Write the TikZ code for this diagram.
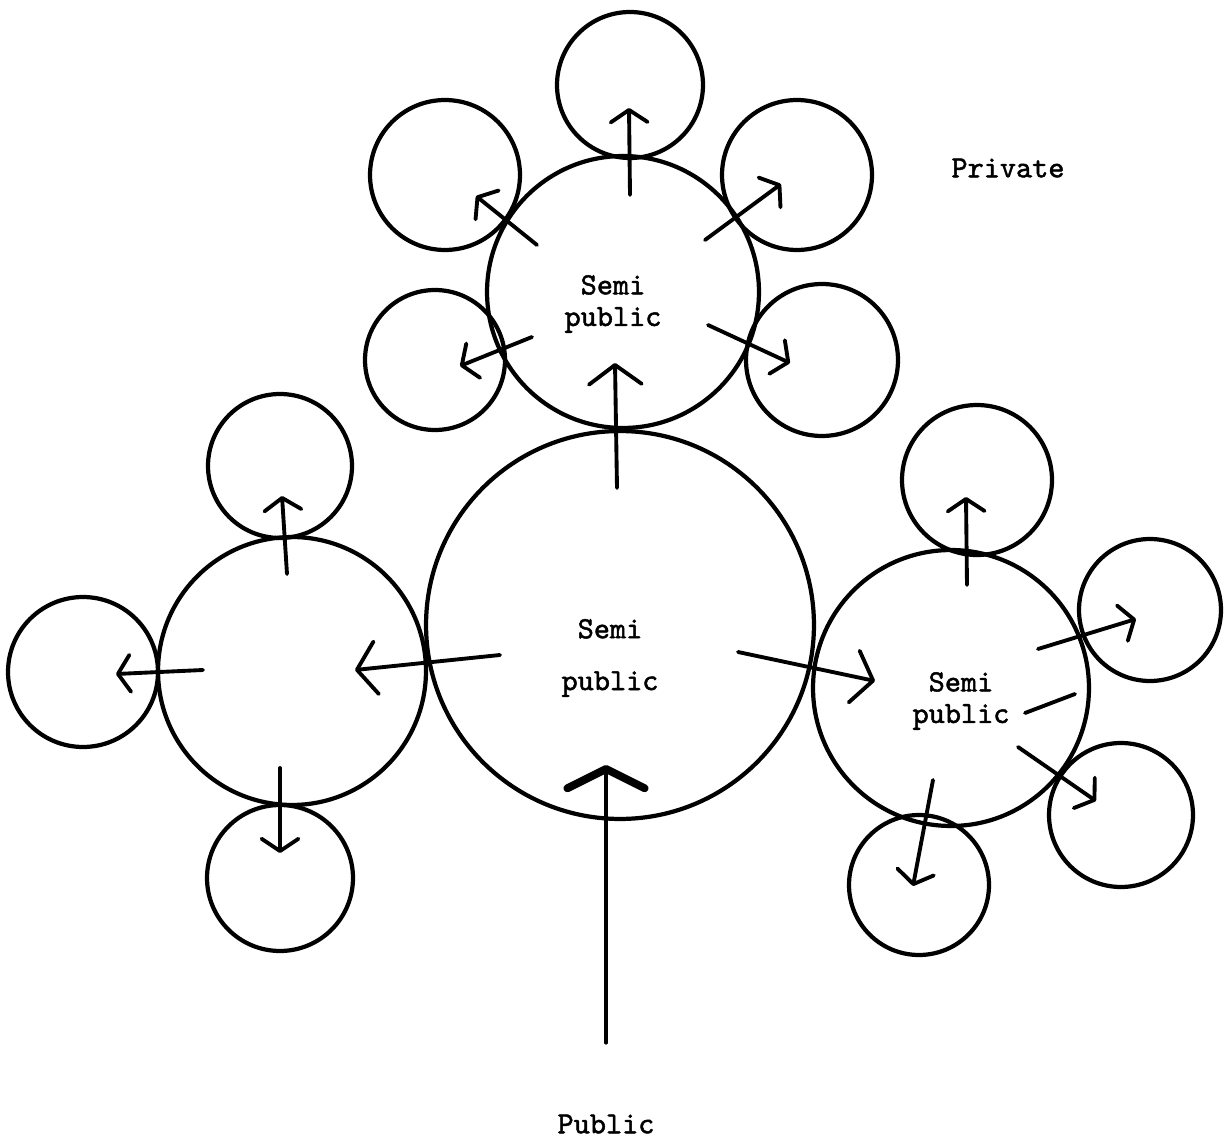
\documentclass[tikz,border=0pt]{standalone}
\usepackage{fontspec}
\newfontfamily\typewriter{lmmono10-regular.otf}[FakeBold=1.6]
\usetikzlibrary{arrows.meta}

\begin{document}
\begin{tikzpicture}[x=0.02cm, y=-0.02cm,
  ring/.style={circle, draw, line width=2.4pt, inner sep=0pt, outer sep=0pt, minimum size=#1},
  flow/.style={line width=2.2pt, line cap=round, -{Straight Barb[length=7pt, width=21pt, round]}},
  mainflow/.style={line width=2.2pt, line cap=round, -{Straight Barb[length=11pt, width=30pt, round]}},
  entry/.style={line width=1.8pt, line cap=round, -{Straight Barb[length=11pt, width=44pt, line width=4.5pt, round]}},
  word/.style={font=\fontsize{17.5}{18}\selectfont\typewriter, align=center, inner sep=0pt}]
\useasboundingbox (0,0) rectangle (1228,1142);

\node[ring=7.76cm] (M) at (620,625) {};
\node[ring=5.44cm] (S) at (623,292) {};
\node[ring=5.36cm] (L) at (292,671) {};
\node[ring=5.52cm] (R) at (951,688) {};

\node[ring=2.92cm] (T1) at (630,85) {};
\node[ring=3cm] (UL) at (445,175) {};
\node[ring=3cm] (UR) at (797,175) {};
\node[ring=2.8cm] (LL) at (435,360) {};
\node[ring=3.04cm] (LR) at (822,360) {};

\node[ring=2.88cm] (LT) at (280,466) {};
\node[ring=3cm] (LW) at (83,672) {};
\node[ring=2.92cm] (LB) at (280,878) {};

\node[ring=3cm] (RT) at (977,480) {};
\node[ring=2.84cm] (RR) at (1150,610) {};
\node[ring=2.88cm] (RLR) at (1121,815) {};
\node[ring=2.8cm] (RB) at (919,885) {};

\node[word] (semiM) at (610,658) {Semi\\[11.5pt]public};
\node[word] (semiS) at (613,304) {Semi\\public};
\node[word] (semiR) at (961,701) {Semi\\public};
\node[word] (priv) at (1008,168) {Private};
\node[word] (pub) at (606,1124) {Public};

\coordinate (gate) at (606,1043);
\draw[entry] (gate) -- ([shift={(-14,140)}]M.center);

\draw[mainflow] ([shift={(-3,-137)}]M.center) -- ([shift={(-8,71)}]S.center);
\draw[mainflow] ([shift={(-120,30)}]M.center) -- ([shift={(63,-1)}]L.center);
\draw[mainflow] ([shift={(118,27)}]M.center) -- ([shift={(-76,-7)}]R.center);

\draw[flow] ([shift={(7,-97)}]S.center) -- ([shift={(-1,23)}]T1.center);
\draw[flow] ([shift={(-86,-47)}]S.center) -- ([shift={(31,21)}]UL.center);
\draw[flow] ([shift={(82,-52)}]S.center) -- ([shift={(-16,9)}]UR.center);
\draw[flow] ([shift={(-91,45)}]S.center) -- ([shift={(25,6)}]LL.center);
\draw[flow] ([shift={(85,33)}]S.center) -- ([shift={(-32,3)}]LR.center);

\draw[flow] ([shift={(-5,-97)}]L.center) -- ([shift={(2,30)}]LT.center);
\draw[flow] ([shift={(-89,-1)}]L.center) -- ([shift={(33,2)}]LW.center);
\draw[flow] ([shift={(-12,97)}]L.center) -- ([shift={(0,-25)}]LB.center);

\draw[flow] ([shift={(16,-103)}]R.center) -- ([shift={(-11,17)}]RT.center);
\draw[flow] ([shift={(87,-39)}]R.center) -- ([shift={(-14,9)}]RR.center);
\draw[flow] ([shift={(67,59)}]R.center) -- ([shift={(-25,-14)}]RLR.center);
\draw[flow] ([shift={(-18,92)}]R.center) -- ([shift={(-6,1)}]RB.center);
\draw[line width=2.2pt, line cap=round] ([shift={(74,25)}]R.center) -- ([shift={(124,6)}]R.center);
\end{tikzpicture}
\end{document}
